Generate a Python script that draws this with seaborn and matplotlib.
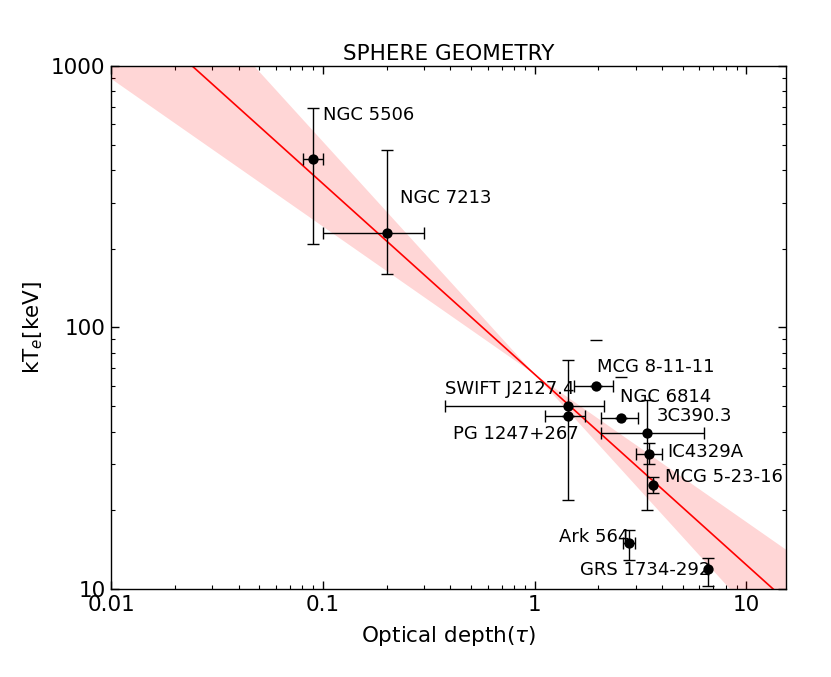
import numpy as np
import pandas as pd
import matplotlib
matplotlib.use("Agg")
import matplotlib.pyplot as plt
import seaborn as sns
from matplotlib.ticker import FixedLocator, FixedFormatter, LogLocator, NullFormatter

# sources: optical depth and electron temperature with (lower, upper) limits
names = ["NGC 5506", "NGC 7213", "MCG 8-11-11", "SWIFT J2127.4", "PG 1247+267",
         "NGC 6814", "3C390.3", "IC4329A", "MCG 5-23-16", "Ark 564", "GRS 1734-292"]
tau = [0.090, 0.20, 1.95, 1.44, 1.44, 2.56, 3.40, 3.46, 3.61, 2.78, 6.59]
tau_lo = [0.081, 0.10, 1.54, 0.376, 1.12, 2.06, 2.06, 3.01, 3.61, 2.62, 6.59]
tau_hi = [0.100, 0.30, 2.34, 2.12, 1.73, 3.08, 6.33, 3.99, 3.61, 2.99, 6.59]
kte = [441, 229, 60.0, 50.1, 45.9, 45.0, 39.6, 32.8, 25.0, 15.0, 11.9]
kte_lo = [209, 160, 60.0, 21.9, 45.9, 45.0, 20.0, 30.0, 23.3, 12.9, 10.3]
kte_hi = [690, 477, 60.0, 75.1, 45.9, 45.0, 52.8, 36.1, 26.9, 16.8, 13.1]

# loose upper caps drawn without a bar
cap_tau = [1.95, 2.56]
cap_kte = [89.6, 64.7]

# label positions (data coords)
lab_x = [0.100, 0.232, 1.97, 0.378, 0.411, 2.54, 3.78, 4.25, 4.14, 1.30, 1.64]
lab_y = [650, 312, 70.8, 58.1, 39.2, 54.1, 45.9, 33.5, 26.7, 15.8, 11.8]

# power-law fit kT = norm * tau^slope, band from slope range about tau = 1
fit_norm = 66.3
fit_slope = -0.729
band_slopes = (-0.565, -0.89)

df = pd.DataFrame({"name": names, "tau": tau, "kte": kte})

sns.set_style("ticks")
plt.rcParams["font.family"] = ["DejaVu Sans"]
plt.rcParams["mathtext.fontset"] = "dejavusans"
for key in ["text.color", "axes.labelcolor", "xtick.color", "ytick.color",
            "axes.edgecolor"]:
    plt.rcParams[key] = "black"

fig = plt.figure(figsize=(8.31, 6.77), dpi=100)
ax = fig.add_axes([0.1336, 0.1300, 0.8122, 0.7725])

tt = np.logspace(-2.2, 1.4, 300)
line_df = pd.DataFrame({"tau": tt, "kte": fit_norm * tt ** fit_slope})
b1 = fit_norm * tt ** band_slopes[0]
b2 = fit_norm * tt ** band_slopes[1]
ax.fill_between(tt, np.minimum(b1, b2), np.maximum(b1, b2), color="red",
                alpha=0.16, linewidth=0, zorder=1)
sns.lineplot(data=line_df, x="tau", y="kte", color="red", linewidth=1.2,
             ax=ax, zorder=2)

xerr = [np.array(tau) - np.array(tau_lo), np.array(tau_hi) - np.array(tau)]
yerr = [np.array(kte) - np.array(kte_lo), np.array(kte_hi) - np.array(kte)]
ax.errorbar(tau, kte, xerr=xerr, yerr=yerr, fmt="none", ecolor="black",
            elinewidth=1.0, capsize=4, capthick=1.0, zorder=3)
ax.plot(cap_tau, cap_kte, linestyle="none", marker="_", markersize=8,
        color="black", markeredgewidth=1.0, zorder=3)
sns.scatterplot(data=df, x="tau", y="kte", color="black", s=55,
                edgecolor="black", linewidth=0, ax=ax, zorder=4)

for n, x, y in zip(names, lab_x, lab_y):
    ax.text(x, y, n, fontsize=13, ha="left", va="center", zorder=5)

ax.set_xscale("log")
ax.set_yscale("log")
ax.set_xlim(0.01, 15.4)
ax.set_ylim(10, 1000)
ax.xaxis.set_major_locator(FixedLocator([0.01, 0.1, 1, 10]))
ax.xaxis.set_major_formatter(FixedFormatter(["0.01", "0.1", "1", "10"]))
ax.yaxis.set_major_locator(FixedLocator([10, 100, 1000]))
ax.yaxis.set_major_formatter(FixedFormatter(["10", "100", "1000"]))
for axis in (ax.xaxis, ax.yaxis):
    axis.set_minor_locator(LogLocator(base=10, subs=np.arange(2, 10), numticks=20))
    axis.set_minor_formatter(NullFormatter())
ax.tick_params(which="both", direction="in", top=True, right=True,
               labelsize=15.5, pad=4)
ax.tick_params(which="major", length=6, width=1)
ax.tick_params(which="minor", length=3, width=0.8)
for s in ax.spines.values():
    s.set_linewidth(1.0)

ax.set_xlabel(r"Optical depth($\tau$)", fontsize=15.5, labelpad=7)
ax.set_ylabel(r"kT$_e$[keV]", fontsize=15.5)
ax.set_title("SPHERE GEOMETRY", fontsize=15.5, pad=4)

fig.savefig("out.png", dpi=100)
